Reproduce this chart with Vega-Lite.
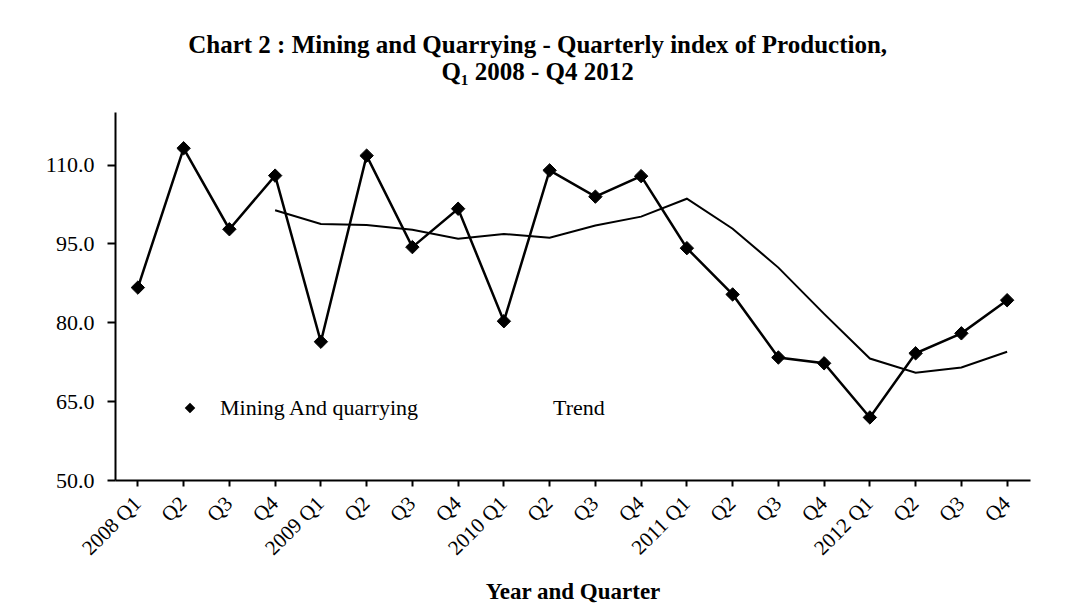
{
  "$schema": "https://vega.github.io/schema/vega-lite/v6.json",
  "width": 915,
  "height": 368,
  "autosize": {"type": "none"},
  "padding": {"left": 115, "top": 112, "right": 43, "bottom": 127},
  "background": "white",
  "title": {
    "text": ["Chart 2 : Mining and Quarrying - Quarterly index of Production,", "Q\u2081 2008 - Q4 2012"],
    "font": "Liberation Serif",
    "fontSize": 25,
    "fontWeight": "bold",
    "color": "black",
    "anchor": "middle",
    "frame": "bounds",
    "offset": 27
  },
  "data": {
    "values": [
      {"q": "2008 Q1", "series": "Mining And quarrying", "value": 86.6},
      {"q": "2008 Q2", "series": "Mining And quarrying", "value": 113.1},
      {"q": "2008 Q3", "series": "Mining And quarrying", "value": 97.7},
      {"q": "2008 Q4", "series": "Mining And quarrying", "value": 107.9},
      {"q": "2009 Q1", "series": "Mining And quarrying", "value": 76.3},
      {"q": "2009 Q2", "series": "Mining And quarrying", "value": 111.7},
      {"q": "2009 Q3", "series": "Mining And quarrying", "value": 94.3},
      {"q": "2009 Q4", "series": "Mining And quarrying", "value": 101.6},
      {"q": "2010 Q1", "series": "Mining And quarrying", "value": 80.2},
      {"q": "2010 Q2", "series": "Mining And quarrying", "value": 108.9},
      {"q": "2010 Q3", "series": "Mining And quarrying", "value": 103.9},
      {"q": "2010 Q4", "series": "Mining And quarrying", "value": 107.8},
      {"q": "2011 Q1", "series": "Mining And quarrying", "value": 94.1},
      {"q": "2011 Q2", "series": "Mining And quarrying", "value": 85.3},
      {"q": "2011 Q3", "series": "Mining And quarrying", "value": 73.3},
      {"q": "2011 Q4", "series": "Mining And quarrying", "value": 72.2},
      {"q": "2012 Q1", "series": "Mining And quarrying", "value": 61.9},
      {"q": "2012 Q2", "series": "Mining And quarrying", "value": 74.1},
      {"q": "2012 Q3", "series": "Mining And quarrying", "value": 77.9},
      {"q": "2012 Q4", "series": "Mining And quarrying", "value": 84.2},
      {"q": "2008 Q4", "series": "Trend", "value": 101.3},
      {"q": "2009 Q1", "series": "Trend", "value": 98.7},
      {"q": "2009 Q2", "series": "Trend", "value": 98.5},
      {"q": "2009 Q3", "series": "Trend", "value": 97.6},
      {"q": "2009 Q4", "series": "Trend", "value": 95.9},
      {"q": "2010 Q1", "series": "Trend", "value": 96.8},
      {"q": "2010 Q2", "series": "Trend", "value": 96.1},
      {"q": "2010 Q3", "series": "Trend", "value": 98.4},
      {"q": "2010 Q4", "series": "Trend", "value": 100.1},
      {"q": "2011 Q1", "series": "Trend", "value": 103.5},
      {"q": "2011 Q2", "series": "Trend", "value": 97.8},
      {"q": "2011 Q3", "series": "Trend", "value": 90.4},
      {"q": "2011 Q4", "series": "Trend", "value": 81.6},
      {"q": "2012 Q1", "series": "Trend", "value": 73.1},
      {"q": "2012 Q2", "series": "Trend", "value": 70.4},
      {"q": "2012 Q3", "series": "Trend", "value": 71.4},
      {"q": "2012 Q4", "series": "Trend", "value": 74.4}
    ]
  },
  "encoding": {
    "x": {
      "field": "q",
      "type": "ordinal",
      "scale": {"type": "band", "paddingInner": 0, "paddingOuter": 0},
      "axis": {
        "title": "Year and Quarter",
        "titleFont": "Liberation Serif",
        "titleFontSize": 23,
        "titleFontWeight": "bold",
        "titleColor": "black",
        "titlePadding": 22,
        "labelExpr": "slice(datum.value, 5) === 'Q1' ? datum.value : slice(datum.value, 5)",
        "labelAngle": -45,
        "labelAlign": "right",
        "labelBaseline": "middle",
        "labelFont": "Liberation Serif",
        "labelFontSize": 21,
        "labelColor": "black",
        "labelPadding": 14,
        "tickSize": 6,
        "tickWidth": 2,
        "tickColor": "black",
        "domainColor": "black",
        "domainWidth": 2,
        "grid": false
      }
    },
    "y": {
      "field": "value",
      "type": "quantitative",
      "scale": {"domain": [50, 120], "nice": false, "zero": false},
      "axis": {
        "title": null,
        "values": [50, 65, 80, 95, 110],
        "format": ".1f",
        "labelFont": "Liberation Serif",
        "labelFontSize": 22,
        "labelColor": "black",
        "labelPadding": 13,
        "tickSize": 8,
        "tickWidth": 2,
        "tickColor": "black",
        "domainColor": "black",
        "domainWidth": 2,
        "grid": false
      }
    }
  },
  "layer": [
    {
      "transform": [{"filter": "datum.series === 'Trend'"}],
      "mark": {"type": "line", "color": "black", "strokeWidth": 2},
      "encoding": {}
    },
    {
      "transform": [{"filter": "datum.series !== 'Trend'"}],
      "mark": {"type": "line", "color": "black", "strokeWidth": 2.5},
      "encoding": {}
    },
    {
      "transform": [{"filter": "datum.series !== 'Trend'"}],
      "mark": {"type": "point", "shape": "diamond", "filled": true, "color": "black", "opacity": 1, "size": 180, "stroke": "black", "strokeWidth": 1}
    },
    {
      "mark": {"type": "point", "filled": true, "color": "black", "opacity": 0},
      "encoding": {
        "shape": {
          "field": "series",
          "type": "nominal",
          "scale": {
            "domain": ["Mining And quarrying", "Trend"],
            "range": ["M-1,0L1,0M0,-0.22L0.22,0L0,0.22L-0.22,0Z", "M-1,0L1,0"]
          },
          "legend": {
            "title": null,
            "orient": "none",
            "direction": "horizontal",
            "legendX": 50,
            "legendY": 271,
            "padding": 0,
            "symbolSize": 2304,
            "symbolFillColor": "black",
            "symbolStrokeColor": "black",
            "symbolStrokeWidth": 2,
            "symbolOpacity": 1,
            "labelFont": "Liberation Serif",
            "labelFontSize": 22,
            "labelColor": "black",
            "labelLimit": 400,
            "labelOffset": 5,
            "columnPadding": 75,
            "encode": {
              "symbols": {
                "update": {
                  "fill": {"value": "black"},
                  "stroke": {"value": "black"},
                  "strokeWidth": {"value": 2},
                  "opacity": {"value": 1},
                  "fillOpacity": {"value": 1},
                  "strokeOpacity": {"value": 1}
                }
              }
            }
          }
        }
      }
    }
  ],
  "config": {
    "view": {"stroke": null}
  }
}
